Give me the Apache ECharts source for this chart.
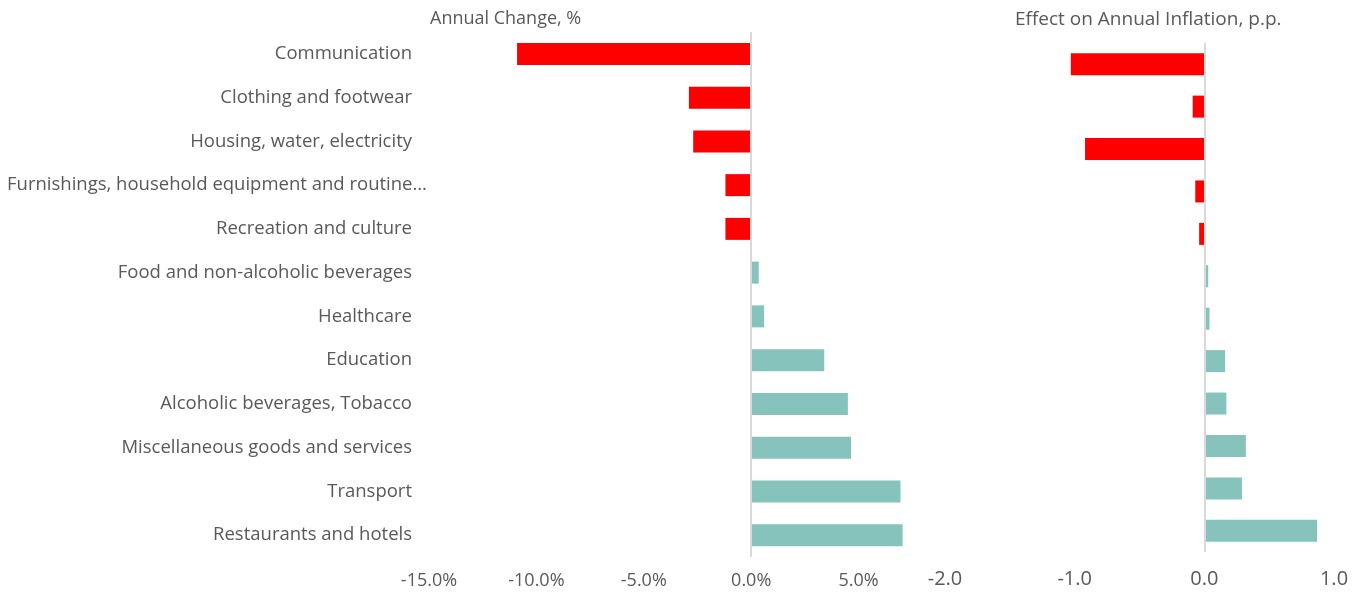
<!DOCTYPE html>
<html>
<head>
<meta charset="utf-8">
<script src="https://cdn.jsdelivr.net/npm/echarts@6/dist/echarts.min.js"></script>
<style>
  html, body { margin: 0; padding: 0; background: #fff; }
  #chart { width: 1370px; height: 603px; }
</style>
</head>
<body>
<div id="chart"></div>
<script>
// categories, top to bottom
const categories = [
  "Communication",
  "Clothing and footwear",
  "Housing, water, electricity",
  "Furnishings, household equipment and routine…",
  "Recreation and culture",
  "Food and non-alcoholic beverages",
  "Healthcare",
  "Education",
  "Alcoholic beverages, Tobacco",
  "Miscellaneous goods and services",
  "Transport",
  "Restaurants and hotels"
];
// annual change, %
const annualChange = [-10.9, -2.9, -2.7, -1.2, -1.2, 0.35, 0.6, 3.4, 4.5, 4.65, 6.95, 7.05];
// effect on annual inflation, p.p.
const inflationEffect = [-1.03, -0.09, -0.92, -0.07, -0.04, 0.03, 0.04, 0.16, 0.17, 0.32, 0.29, 0.87];

const RED = "#FF0000";
const TEAL = "#85C3BC";
const TEXT = "#595959";
const FONT = "Open Sans";

const chart = echarts.init(document.getElementById("chart"));

const barColor = (p) => (p.value < 0 ? RED : TEAL);
const zeroLine = {
  silent: true,
  symbol: "none",
  label: { show: false },
  lineStyle: { color: "#D9D9D9", width: 2, type: "solid" },
  data: [{ xAxis: 0 }]
};

const option = {
  animation: false,
  backgroundColor: "#fff",
  textStyle: { fontFamily: FONT },
  title: [
    {
      text: "Annual Change, %",
      left: 425,
      top: 5,
      textStyle: { color: TEXT, fontSize: 18, fontWeight: "normal", fontFamily: FONT }
    },
    {
      text: "Effect on Annual Inflation, p.p.",
      left: 1010,
      top: 5,
      textStyle: { color: TEXT, fontSize: 19, fontWeight: "normal", fontFamily: FONT }
    }
  ],
  grid: [
    { left: 429, width: 537, top: 32, height: 525 },
    { left: 945, width: 389, top: 43, height: 509 }
  ],
  xAxis: [
    {
      gridIndex: 0,
      type: "value",
      min: -15,
      max: 10,
      interval: 5,
      axisLine: { show: false },
      axisTick: { show: false },
      splitLine: { show: false },
      axisLabel: {
        color: TEXT,
        fontSize: 18,
        margin: 15,
        showMaxLabel: false,
        formatter: (v) => v.toFixed(1) + "%"
      }
    },
    {
      gridIndex: 1,
      type: "value",
      min: -2,
      max: 1,
      interval: 1,
      axisLine: { show: false },
      axisTick: { show: false },
      splitLine: { show: false },
      axisLabel: {
        color: TEXT,
        fontSize: 20,
        margin: 17,
        formatter: (v) => v.toFixed(1)
      }
    }
  ],
  yAxis: [
    {
      gridIndex: 0,
      type: "category",
      inverse: true,
      data: categories,
      axisLine: { show: false },
      axisTick: { show: false },
      axisLabel: {
        color: TEXT,
        fontSize: 18.5,
        margin: 17,
        formatter: (v) => (v.length > 40 ? "{long|" + v + "}" : v),
        rich: {
          long: { width: 405, align: "left", color: TEXT, fontSize: 18.5, fontFamily: FONT }
        }
      }
    },
    {
      gridIndex: 1,
      type: "category",
      inverse: true,
      data: categories,
      axisLine: { show: false },
      axisTick: { show: false },
      axisLabel: { show: false }
    }
  ],
  series: [
    {
      name: "Annual Change, %",
      type: "bar",
      xAxisIndex: 0,
      yAxisIndex: 0,
      data: annualChange,
      barWidth: 22,
      itemStyle: { color: barColor },
      markLine: zeroLine
    },
    {
      name: "Effect on Annual Inflation, p.p.",
      type: "bar",
      xAxisIndex: 1,
      yAxisIndex: 1,
      data: inflationEffect,
      barWidth: 22,
      itemStyle: { color: barColor },
      markLine: zeroLine
    }
  ]
};

chart.setOption(option);
</script>
</body>
</html>
